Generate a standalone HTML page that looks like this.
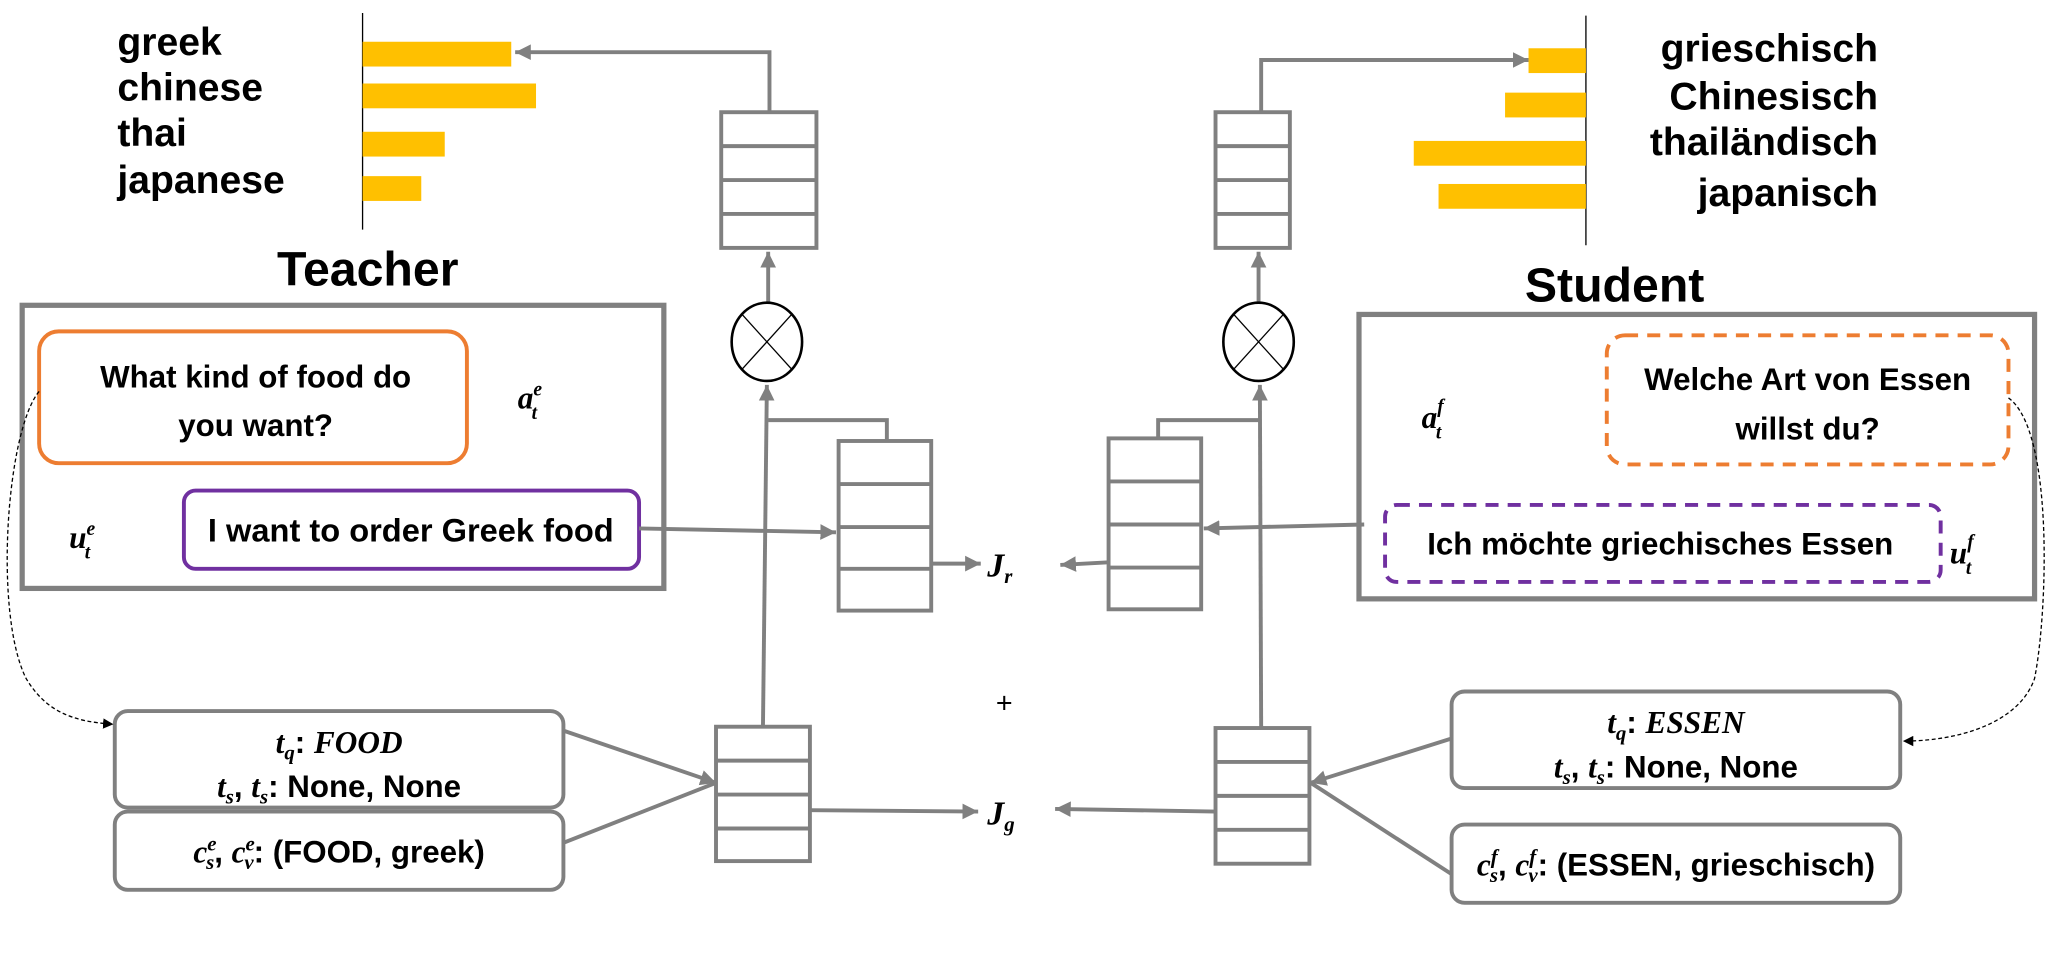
<!DOCTYPE html>
<html><head><meta charset="utf-8"><style>
html,body{margin:0;padding:0;background:#fff;}
svg{display:block;}
text{font-family:"Liberation Sans",sans-serif;}
.lbl{font-weight:bold;font-size:30px;fill:#000;}
.bx{font-weight:bold;font-size:24px;fill:#000;}
.bb{font-weight:bold;font-size:25px;fill:#000;}
.m{font-family:"Liberation Serif",serif;font-style:italic;font-weight:bold;fill:#000;}
</style></head><body>
<svg width="2045" height="972" viewBox="0 0 1568 745" preserveAspectRatio="none" xmlns="http://www.w3.org/2000/svg">
<defs>
<marker id="ah2" markerWidth="14" markerHeight="14" refX="12" refY="7" orient="auto" markerUnits="userSpaceOnUse"><path d="M0,1 L12,7 L0,13 z" fill="#808080"/></marker>
<marker id="ak" markerWidth="8" markerHeight="8" refX="7" refY="4" orient="auto" markerUnits="userSpaceOnUse"><path d="M0,0 L8,4 L0,8 z" fill="#000"/></marker>
</defs>

<!-- left bar chart -->
<line x1="278" y1="10" x2="278" y2="176" stroke="#000" stroke-width="1"/>
<rect x="278" y="32" width="114" height="19" fill="#FFC000"/>
<rect x="278" y="64" width="133" height="19" fill="#FFC000"/>
<rect x="278" y="101" width="63" height="19" fill="#FFC000"/>
<rect x="278" y="135" width="45" height="19" fill="#FFC000"/>
<text class="lbl" x="90" y="42">greek</text>
<text class="lbl" x="90" y="77">chinese</text>
<text class="lbl" x="90" y="112">thai</text>
<text class="lbl" x="90" y="148">japanese</text>

<!-- right bar chart -->
<line x1="1216" y1="12" x2="1216" y2="188" stroke="#000" stroke-width="1"/>
<rect x="1172" y="37" width="44" height="19" fill="#FFC000"/>
<rect x="1154" y="71" width="62" height="19" fill="#FFC000"/>
<rect x="1084" y="108" width="132" height="19" fill="#FFC000"/>
<rect x="1103" y="141" width="113" height="19" fill="#FFC000"/>
<g text-anchor="end">
<text class="lbl" x="1440" y="47">grieschisch</text>
<text class="lbl" x="1440" y="84">Chinesisch</text>
<text class="lbl" x="1440" y="119">thailändisch</text>
<text class="lbl" x="1440" y="158">japanisch</text>
</g>

<text x="282" y="219" text-anchor="middle" font-weight="bold" font-size="37">Teacher</text>
<text x="1238" y="231" text-anchor="middle" font-weight="bold" font-size="37">Student</text>

<!-- Teacher box -->
<rect x="17" y="234" width="492" height="217" fill="none" stroke="#808080" stroke-width="4"/>
<rect x="30" y="254" width="328" height="101" rx="15" fill="none" stroke="#ED7D31" stroke-width="3"/>
<text class="bx" x="196" y="297" text-anchor="middle">What kind of food do</text>
<text class="bx" x="196" y="334" text-anchor="middle">you want?</text>
<text class="m" x="397" y="313" font-size="24">a<tspan font-size="15" dy="-10">e</tspan><tspan font-size="15" dx="-8" dy="18">t</tspan></text>
<text class="m" x="53" y="420" font-size="24">u<tspan font-size="15" dy="-10">e</tspan><tspan font-size="15" dx="-8" dy="18">t</tspan></text>
<rect x="141" y="376" width="349" height="60" rx="9" fill="none" stroke="#7030A0" stroke-width="3"/>
<text class="bb" x="315" y="415" text-anchor="middle">I want to order Greek food</text>

<!-- Student box -->
<rect x="1042" y="241" width="518" height="218" fill="none" stroke="#808080" stroke-width="4"/>
<rect x="1232" y="257" width="308" height="99" rx="14" fill="none" stroke="#ED7D31" stroke-width="3" stroke-dasharray="10,7"/>
<text class="bx" x="1386" y="299" text-anchor="middle">Welche Art von Essen</text>
<text class="bx" x="1386" y="337" text-anchor="middle">willst du?</text>
<text class="m" x="1090" y="328" font-size="24">a<tspan font-size="15" dy="-12">f</tspan><tspan font-size="15" dx="-6" dy="20">t</tspan></text>
<rect x="1062" y="387" width="426" height="59" rx="9" fill="none" stroke="#7030A0" stroke-width="3" stroke-dasharray="10,7"/>
<text class="bx" x="1273" y="425" text-anchor="middle">Ich möchte griechisches Essen</text>
<text class="m" x="1495" y="432" font-size="24">u<tspan font-size="15" dy="-12">f</tspan><tspan font-size="15" dx="-6" dy="20">t</tspan></text>

<!-- stacks -->
<g fill="#fff" stroke="#808080" stroke-width="3">
<rect x="553" y="86" width="73" height="104"/>
<line x1="553" y1="112" x2="626" y2="112"/><line x1="553" y1="138" x2="626" y2="138"/><line x1="553" y1="164" x2="626" y2="164"/>
<rect x="932" y="86" width="57" height="104"/>
<line x1="932" y1="112" x2="989" y2="112"/><line x1="932" y1="138" x2="989" y2="138"/><line x1="932" y1="164" x2="989" y2="164"/>
<rect x="643" y="338" width="71" height="130"/>
<line x1="643" y1="371" x2="714" y2="371"/><line x1="643" y1="404" x2="714" y2="404"/><line x1="643" y1="436" x2="714" y2="436"/>
<rect x="850" y="336" width="71" height="131"/>
<line x1="850" y1="369" x2="921" y2="369"/><line x1="850" y1="402" x2="921" y2="402"/><line x1="850" y1="435" x2="921" y2="435"/>
<rect x="549" y="557" width="72" height="103"/>
<line x1="549" y1="583" x2="621" y2="583"/><line x1="549" y1="609" x2="621" y2="609"/><line x1="549" y1="635" x2="621" y2="635"/>
<rect x="932" y="558" width="72" height="104"/>
<line x1="932" y1="584" x2="1004" y2="584"/><line x1="932" y1="610" x2="1004" y2="610"/><line x1="932" y1="636" x2="1004" y2="636"/>
</g>

<!-- connectors -->
<g fill="none" stroke="#808080" stroke-width="3">
<polyline points="590,86 590,40 395,40" marker-end="url(#ah2)"/>
<polyline points="967,86 967,46 1172,46" marker-end="url(#ah2)"/>
<line x1="589" y1="232" x2="589" y2="193" marker-end="url(#ah2)"/>
<line x1="965" y1="232" x2="965" y2="193" marker-end="url(#ah2)"/>
<line x1="585" y1="557" x2="588" y2="295" marker-end="url(#ah2)"/>
<line x1="967" y1="558" x2="966" y2="295" marker-end="url(#ah2)"/>
<polyline points="589,322 680,322 680,338"/>
<polyline points="967,322 888,322 888,336"/>
<line x1="490" y1="405" x2="641" y2="408" marker-end="url(#ah2)"/>
<line x1="1046" y1="402" x2="923" y2="405" marker-end="url(#ah2)"/>
<line x1="714" y1="432" x2="752" y2="432" marker-end="url(#ah2)"/>
<line x1="850" y1="431" x2="813" y2="433" marker-end="url(#ah2)"/>
<line x1="621" y1="621" x2="750" y2="622" marker-end="url(#ah2)"/>
<line x1="932" y1="622" x2="809" y2="620" marker-end="url(#ah2)"/>
<line x1="432" y1="560" x2="549" y2="600" marker-end="url(#ah2)"/>
<line x1="432" y1="646" x2="549" y2="600"/>
<line x1="1113" y1="566" x2="1005" y2="600" marker-end="url(#ah2)"/>
<line x1="1113" y1="670" x2="1005" y2="600"/>
</g>

<!-- circles -->
<g fill="#fff" stroke="#000" stroke-width="2">
<ellipse cx="588" cy="262" rx="27" ry="30"/>
<line x1="569" y1="241" x2="607" y2="283" stroke-width="1"/><line x1="607" y1="241" x2="569" y2="283" stroke-width="1"/>
<ellipse cx="965" cy="262" rx="27" ry="30"/>
<line x1="946" y1="241" x2="984" y2="283" stroke-width="1"/><line x1="984" y1="241" x2="946" y2="283" stroke-width="1"/>
</g>

<text class="m" x="757" y="442" font-size="26">J<tspan font-size="16" dy="5">r</tspan></text>
<text class="m" x="757" y="632" font-size="26">J<tspan font-size="16" dy="5">g</tspan></text>
<text x="770" y="546" text-anchor="middle" font-size="22" font-family="Liberation Serif">+</text>

<!-- bottom boxes -->
<g fill="#fff" stroke="#808080" stroke-width="3">
<rect x="88" y="545" width="344" height="74" rx="10"/>
<rect x="88" y="622" width="344" height="60" rx="10"/>
<rect x="1113" y="530" width="344" height="74" rx="10"/>
<rect x="1113" y="632" width="344" height="60" rx="10"/>
</g>
<g font-size="25">
<text class="bx" font-size="25" x="260" y="577" text-anchor="middle"><tspan class="m">t<tspan font-size="16" dy="5">q</tspan></tspan><tspan dy="-5">: </tspan><tspan class="m">FOOD</tspan></text>
<text class="bx" font-size="25" x="260" y="611" text-anchor="middle"><tspan class="m">t<tspan font-size="16" dy="5">s</tspan></tspan><tspan dy="-5">, </tspan><tspan class="m">t<tspan font-size="16" dy="5">s</tspan></tspan><tspan dy="-5">: None, None</tspan></text>
<text class="bx" font-size="25" x="260" y="661" text-anchor="middle"><tspan class="m">c<tspan font-size="16" dy="-9">e</tspan><tspan font-size="16" dx="-8" dy="14">s</tspan></tspan><tspan dy="-5">, </tspan><tspan class="m">c<tspan font-size="16" dy="-9">e</tspan><tspan font-size="16" dx="-8" dy="14">v</tspan></tspan><tspan dy="-5">: (FOOD, greek)</tspan></text>
<text class="bx" font-size="25" x="1285" y="562" text-anchor="middle"><tspan class="m">t<tspan font-size="16" dy="5">q</tspan></tspan><tspan dy="-5">: </tspan><tspan class="m">ESSEN</tspan></text>
<text class="bx" font-size="25" x="1285" y="596" text-anchor="middle"><tspan class="m">t<tspan font-size="16" dy="5">s</tspan></tspan><tspan dy="-5">, </tspan><tspan class="m">t<tspan font-size="16" dy="5">s</tspan></tspan><tspan dy="-5">: None, None</tspan></text>
<text class="bx" font-size="25" x="1285" y="671" text-anchor="middle"><tspan class="m">c<tspan font-size="16" dy="-9">f</tspan><tspan font-size="16" dx="-6" dy="14">s</tspan></tspan><tspan dy="-5">, </tspan><tspan class="m">c<tspan font-size="16" dy="-9">f</tspan><tspan font-size="16" dx="-6" dy="14">v</tspan></tspan><tspan dy="-5">: (ESSEN, grieschisch)</tspan></text>
</g>

<!-- dotted curves -->
<path d="M30,300 C5,330 -5,470 20,520 C35,545 55,553 86,555" fill="none" stroke="#000" stroke-width="1" stroke-dasharray="3,2" marker-end="url(#ak)"/>
<path d="M1540,305 C1575,330 1570,470 1560,520 C1548,555 1500,568 1460,568" fill="none" stroke="#000" stroke-width="1" stroke-dasharray="3,2" marker-end="url(#ak)"/>
</svg>
</body></html>
